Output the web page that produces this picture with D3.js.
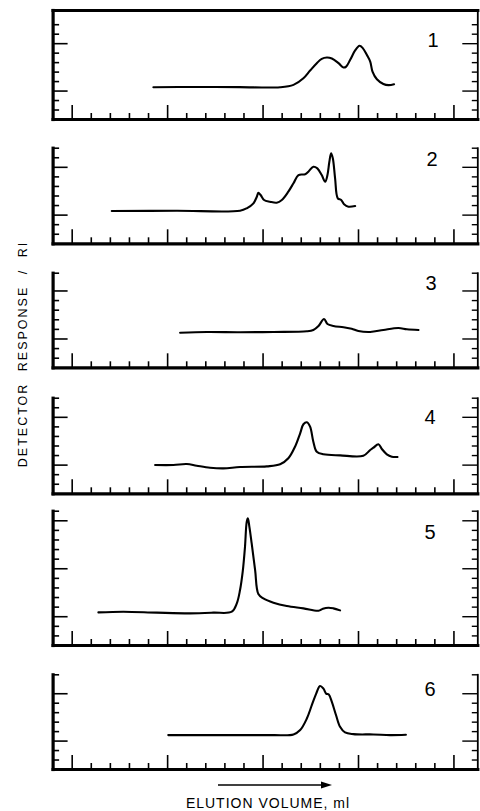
<!DOCTYPE html>
<html>
<head>
<meta charset="utf-8">
<script src="https://cdn.jsdelivr.net/npm/d3@7/dist/d3.min.js"></script>
<style>
  html, body { margin: 0; padding: 0; background: #fff; }
  svg { display: block; }
  text { font-family: "Liberation Sans", Arial, Helvetica, sans-serif; fill: #000; }
</style>
</head>
<body>
<svg id="chart" width="480" height="811"></svg>
<script>
// ---------- DATA (elution volume in minor-tick units, detector response in minor-tick units) ----------
const panelLabels = ["1", "2", "3", "4", "5", "6"];

const elutionMinorTicks = [2,3,4,5,7,8,9,10,12,13,14,15,17,18,19,20];
const elutionMajorTicks = [1, 6, 11, 16, 21];

const responseMajorTicks = [3, 8, 13];
const responseTicks1 = [1,2,3,4,5,6,7,8,9,10];
const responseTicks2 = [1,2,3,4,5,6,7,8,9,10];
const responseTicks3 = [1,2,3,4,5,6,7,8,9.85];
const responseTicks4 = [1,2,3,4,5,6,7,8,9,10];
const responseTicks5 = [1,2,3,4,5,6,7,8,9,10,11,12,13,14];
const responseTicks6 = [1,2,3,4,5,6,7,8,10];
const responseMax = [11.5, 10, 9.85, 10, 14, 10];

const trace1 = [[5.28,3.35],[7.5,3.38],[9.8,3.36],[11.92,3.35],[12.62,3.6],[13.14,4.3],[13.49,5.11],[13.84,5.89],
  [14.1,6.35],[14.37,6.49],[14.63,6.38],[14.98,5.89],[15.24,5.43],[15.38,5.53],[15.59,6.24],[15.85,7.23],
  [16.08,7.72],[16.25,7.48],[16.46,6.77],[16.64,6.06],[16.76,5.01],[16.99,4.2],[17.33,3.7],[17.6,3.57],[17.89,3.67]];

const trace2 = [[3.1,3.38],[6.5,3.4],[9.82,3.41],[10.17,3.66],[10.52,4.18],[10.7,4.87],[10.78,5.29],[10.9,5.05],
  [11.08,4.53],[11.39,4.35],[11.74,4.25],[12.01,4.53],[12.35,5.4],[12.62,6.28],[12.88,7.14],[13.23,7.22],
  [13.4,7.49],[13.66,8.01],[13.87,7.84],[14.1,7.14],[14.28,6.44],[14.4,7.14],[14.5,8.54],[14.59,9.41],
  [14.68,8.89],[14.8,6.8],[14.94,4.71],[15.12,4.53],[15.27,4.08],[15.5,3.83],[15.85,3.9]];

const trace3 = [[6.68,3.6],[8.08,3.68],[9.82,3.65],[11.57,3.68],[13.32,3.75],[13.66,3.89],[13.93,4.3],[14.22,5.03],
  [14.4,4.51],[14.71,4.3],[15.24,4.17],[15.67,4.02],[16.02,3.78],[16.64,3.68],[17.33,3.89],[18.12,4.09],
  [18.56,3.96],[19.17,3.89]];

const trace4 = [[5.37,2.96],[6.33,2.96],[7.03,3.06],[7.55,2.89],[8.25,2.68],[8.95,2.61],[9.82,2.75],[11.22,2.82],
  [11.92,3.03],[12.35,3.66],[12.7,4.87],[12.97,6.28],[13.14,7.22],[13.32,7.43],[13.49,6.97],[13.66,5.4],
  [13.84,4.35],[14.19,4.08],[15.06,3.97],[16.28,3.93],[16.64,4.53],[16.81,4.77],[17.07,5.13],[17.25,4.63],
  [17.51,4.08],[17.77,3.83],[18.07,3.8]];

const trace5 = [[2.4,3.4],[3.71,3.47],[5.46,3.37],[7.2,3.3],[8.42,3.37],[9.39,3.47],[9.65,4.34],[9.82,5.73],
  [9.96,7.64],[10.08,10.24],[10.17,12.84],[10.23,13.2],[10.31,12.32],[10.43,10.59],[10.61,7.81],[10.78,5.31],
  [11.04,4.86],[11.57,4.41],[12.27,4.06],[13.14,3.82],[13.93,3.57],[14.16,3.78],[14.45,3.89],[14.71,3.82],[15.06,3.61]];

const trace6 = [[6.06,3.58],[8.08,3.58],[9.82,3.58],[11.57,3.58],[12.62,3.65],[12.97,4.11],[13.32,5.33],[13.58,6.74],
  [13.81,7.96],[14.01,8.77],[14.19,8.49],[14.33,7.96],[14.47,7.86],[14.63,7.09],[14.85,5.68],[15.06,4.46],
  [15.32,3.86],[15.76,3.68],[16.81,3.65],[17.68,3.58],[18.51,3.61]];

const traces = [trace1, trace2, trace3, trace4, trace5, trace6];
const responseTicks = [responseTicks1, responseTicks2, responseTicks3, responseTicks4, responseTicks5, responseTicks6];

// ---------- LAYOUT ----------
const layout = [
  { top: 10,    bottom: 119,   label: [433, 46.5] },
  { top: 147.7, bottom: 243.3, label: [432, 165.5] },
  { top: 272.7, bottom: 367.3, label: [431, 290] },
  { top: 397.7, bottom: 493.3, label: [430, 423.5] },
  { top: 510.7, bottom: 645,   label: [430, 538.5] },
  { top: 674.3, bottom: 769,   label: [430, 695.5] }
];
const xLeft = 52.6, xRight = 477.3;

const svg = d3.select("#chart");
const x = d3.scaleLinear().domain([0, 22.25]).range([xLeft, xRight]);

function styleAxis(sel, domainWidth, tickWidth) {
  sel.selectAll(".domain").attr("stroke", "#000").attr("stroke-width", domainWidth).attr("stroke-linecap", "square");
  sel.selectAll(".tick line").attr("stroke", "#000").attr("stroke-width", tickWidth);
}

panelLabels.forEach((lab, i) => {
  const L = layout[i];
  const g = svg.append("g");
  const y = d3.scaleLinear().domain([0, responseMax[i]]).range([L.bottom, L.top]);

  const ticks = responseTicks[i];
  const minor = ticks.filter(t => !responseMajorTicks.includes(t));
  const major = ticks.filter(t => responseMajorTicks.includes(t));

  // left axis (ticks point inward)
  g.append("g").attr("transform", `translate(${xLeft},0)`)
    .call(d3.axisRight(y).tickValues(minor).tickSize(6.5).tickSizeOuter(0).tickFormat(""))
    .call(s => styleAxis(s, 3.2, 1.6));
  g.append("g").attr("transform", `translate(${xLeft},0)`)
    .call(d3.axisRight(y).tickValues(major).tickSize(15).tickSizeOuter(0).tickFormat(""))
    .call(s => { s.select(".domain").remove(); styleAxis(s, 0, 1.6); });

  // right axis (ticks point inward)
  g.append("g").attr("transform", `translate(${xRight},0)`)
    .call(d3.axisLeft(y).tickValues(minor).tickSize(5.5).tickSizeOuter(0).tickFormat(""))
    .call(s => styleAxis(s, 1.8, 1.4));
  g.append("g").attr("transform", `translate(${xRight},0)`)
    .call(d3.axisLeft(y).tickValues(major).tickSize(15).tickSizeOuter(0).tickFormat(""))
    .call(s => { s.select(".domain").remove(); styleAxis(s, 0, 1.4); });

  // bottom axis (ticks point up)
  g.append("g").attr("transform", `translate(0,${L.bottom})`)
    .call(d3.axisTop(x).tickValues(elutionMinorTicks).tickSize(6).tickSizeOuter(0).tickFormat(""))
    .call(s => styleAxis(s, 3.2, 1.6));
  g.append("g").attr("transform", `translate(0,${L.bottom})`)
    .call(d3.axisTop(x).tickValues(elutionMajorTicks).tickSize(14).tickSizeOuter(0).tickFormat(""))
    .call(s => { s.select(".domain").remove(); styleAxis(s, 0, 1.6); });

  // first panel is closed on top
  if (i === 0) {
    g.append("g").attr("transform", `translate(0,${L.top})`)
      .call(d3.axisBottom(x).tickValues([]).tickSizeOuter(0))
      .call(s => styleAxis(s, 3.2, 1.6));
  }

  // trace
  const line = d3.line()
    .x(d => x(d[0]))
    .y(d => y(d[1]))
    .curve(d3.curveCatmullRom.alpha(0.5));
  g.append("path").datum(traces[i])
    .attr("d", line)
    .attr("fill", "none")
    .attr("stroke", "#000")
    .attr("stroke-width", 2.1)
    .attr("stroke-linejoin", "round")
    .attr("stroke-linecap", "round");

  // panel number
  g.append("text")
    .attr("x", L.label[0]).attr("y", L.label[1])
    .attr("text-anchor", "middle")
    .attr("font-size", 20)
    .text(lab);
});

// y-axis title
svg.append("text")
  .attr("transform", "translate(26.5,354) rotate(-90)")
  .attr("text-anchor", "middle")
  .attr("font-size", 12.5)
  .attr("letter-spacing", 2)
  .attr("word-spacing", 6)
  .text("DETECTOR RESPONSE / RI");

// direction arrow
const ay = 785;
svg.append("line").attr("x1", 218).attr("x2", 323).attr("y1", ay).attr("y2", ay)
  .attr("stroke", "#000").attr("stroke-width", 1.6);
svg.append("path").attr("d", `M${321},${ay-3.5} L${332},${ay} L${321},${ay+3.5} Z`).attr("fill", "#000");

// x-axis title
svg.append("text")
  .attr("x", 268).attr("y", 808)
  .attr("text-anchor", "middle")
  .attr("font-size", 14)
  .attr("letter-spacing", 1)
  .text("ELUTION VOLUME, ml");
</script>
</body>
</html>
